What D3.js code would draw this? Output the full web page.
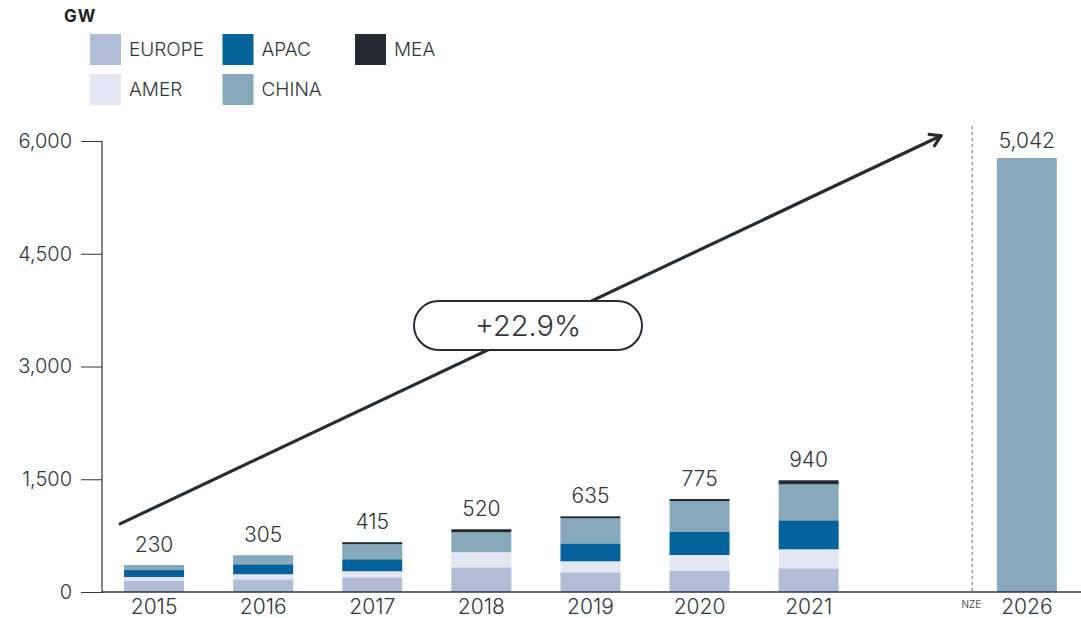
<!DOCTYPE html>
<html>
<head>
<meta charset="utf-8">
<script src="https://cdn.jsdelivr.net/npm/d3@7"></script>
<style>
  body { margin: 0; background: #fff; }
  text { font-family: Inter, "Noto Sans", sans-serif; fill: #30363d; }
</style>
</head>
<body>
<div id="chart"></div>
<script>
// ---------------- data ----------------
const years = ["2015", "2016", "2017", "2018", "2019", "2020", "2021"];
const regions = ["EUROPE", "AMER", "APAC", "CHINA", "MEA"];
const europe = [146, 169, 196, 329, 262, 279, 315];
const amer   = [53, 67, 80, 200, 146, 213, 253];
const apac   = [93, 133, 160, 0, 239, 306, 386];
const china  = [67, 120, 200, 266, 333, 412, 479];
const mea    = [0, 0, 27, 40, 27, 27, 53];
const totalLabels = ["230", "305", "415", "520", "635", "775", "940"];
const nzeYear = "2026";
const nzeValue = 5773;
const nzeLabel = "5,042";
const yTicks = [0, 1500, 3000, 4500, 6000];
const growthLabel = "+22.9%";

const colors = {
  EUROPE: "#b1bdd7",
  AMER: "#e4e8f2",
  APAC: "#03629a",
  CHINA: "#88a8bb",
  MEA: "#232a31"
};

const width = 1081, height = 618;

const svg = d3.select("#chart")
  .append("svg")
  .attr("width", width)
  .attr("height", height);

// ---------------- scales ----------------
const slots = years.concat(["gap", nzeYear]);
const x = d3.scaleBand()
  .domain(slots)
  .range([99.5, 1081.4])
  .paddingInner(0.45)
  .paddingOuter(0.225);

const y = d3.scaleLinear()
  .domain([0, 6000])
  .range([592, 141]);

// ---------------- stacked bars ----------------
const rows = years.map((yr, i) => ({
  year: yr, EUROPE: europe[i], AMER: amer[i], APAC: apac[i], CHINA: china[i], MEA: mea[i]
}));
const series = d3.stack().keys(regions)(rows);

svg.append("g")
  .selectAll("g")
  .data(series)
  .enter()
  .append("g")
  .attr("fill", d => colors[d.key])
  .selectAll("rect")
  .data(d => d)
  .enter()
  .append("rect")
  .attr("x", d => x(d.data.year))
  .attr("width", x.bandwidth())
  .attr("y", d => y(d[1]))
  .attr("height", d => y(d[0]) - y(d[1]));

// NZE bar
svg.append("rect")
  .attr("x", x(nzeYear))
  .attr("width", x.bandwidth())
  .attr("y", y(nzeValue))
  .attr("height", y(0) - y(nzeValue))
  .attr("fill", colors.CHINA);

// total labels
const totals = rows.map(r => regions.reduce((s, k) => s + r[k], 0));
svg.append("g")
  .selectAll("text")
  .data(years)
  .enter()
  .append("text")
  .attr("x", d => x(d) + x.bandwidth() / 2)
  .attr("y", (d, i) => y(totals[i]) - 13)
  .attr("text-anchor", "middle")
  .style("font-size", "21px")
  .style("font-weight", 300)
  .text((d, i) => totalLabels[i]);

svg.append("text")
  .attr("x", x(nzeYear) + x.bandwidth() / 2)
  .attr("y", y(nzeValue) - 10)
  .attr("text-anchor", "middle")
  .style("font-size", "21px")
  .style("font-weight", 300)
  .text(nzeLabel);

// ---------------- axes ----------------
svg.append("line")
  .attr("x1", 102).attr("x2", width)
  .attr("y1", y(0)).attr("y2", y(0))
  .attr("stroke", "#30363d").attr("stroke-width", 1.5);

svg.append("line")
  .attr("x1", 102).attr("x2", 102)
  .attr("y1", y(6000)).attr("y2", y(0))
  .attr("stroke", "#30363d").attr("stroke-width", 1.2);

const yAxis = svg.append("g")
  .attr("transform", "translate(102,0)")
  .call(d3.axisLeft(y).tickValues(yTicks).tickSize(21).tickPadding(9).tickFormat(d3.format(",")));
yAxis.select(".domain").remove();
yAxis.selectAll("line").attr("stroke", "#30363d");
yAxis.selectAll("text")
  .attr("font-family", "Inter, sans-serif")
  .attr("fill", "#30363d")
  .style("font-size", "20px")
  .style("font-weight", 300);

svg.append("g")
  .selectAll("text")
  .data(years.concat([nzeYear]))
  .enter()
  .append("text")
  .attr("x", d => x(d) + x.bandwidth() / 2)
  .attr("y", 614)
  .attr("text-anchor", "middle")
  .style("font-size", "21px")
  .style("font-weight", 300)
  .text(d => d);

// NZE divider
const divX = (x("gap") + x(nzeYear) + x.bandwidth()) / 2;
svg.append("line")
  .attr("x1", divX).attr("x2", divX)
  .attr("y1", 126).attr("y2", y(0))
  .attr("stroke", "#9a9a9a")
  .attr("stroke-width", 1.5)
  .attr("stroke-dasharray", "3,3");

svg.append("text")
  .attr("x", divX - 1)
  .attr("y", 608)
  .attr("text-anchor", "middle")
  .style("font-size", "10px")
  .style("fill", "#555")
  .text("NZE");

// ---------------- growth arrow ----------------
const arrowFrom = [119, y(900)];
const arrowTo = [941, y(6070)];
svg.append("line")
  .attr("x1", arrowFrom[0]).attr("y1", arrowFrom[1])
  .attr("x2", arrowTo[0]).attr("y2", arrowTo[1])
  .attr("stroke", "#272d33").attr("stroke-width", 3.2);

const ang = Math.atan2(arrowTo[1] - arrowFrom[1], arrowTo[0] - arrowFrom[0]);
[ang + Math.PI - 0.55, ang + Math.PI + 0.55].forEach(a => {
  svg.append("line")
    .attr("x1", arrowTo[0]).attr("y1", arrowTo[1])
    .attr("x2", arrowTo[0] + 12 * Math.cos(a)).attr("y2", arrowTo[1] + 12 * Math.sin(a))
    .attr("stroke", "#272d33").attr("stroke-width", 3.2)
    .attr("stroke-linecap", "round");
});

svg.append("rect")
  .attr("x", 414).attr("y", 301)
  .attr("width", 228).attr("height", 49)
  .attr("rx", 24.5)
  .attr("fill", "#fff")
  .attr("stroke", "#272d33")
  .attr("stroke-width", 2);

svg.append("text")
  .attr("x", 528).attr("y", 336)
  .attr("text-anchor", "middle")
  .style("font-size", "29px")
  .style("font-weight", 300)
  .text(growthLabel);

// ---------------- legend ----------------
svg.append("text")
  .attr("x", 64).attr("y", 22)
  .attr("letter-spacing", 1)
  .style("font-size", "17px")
  .style("font-weight", 700)
  .style("fill", "#1d2226")
  .text("GW");

const legendOrder = ["EUROPE", "AMER", "APAC", "CHINA", "MEA"];
const legend = svg.append("g")
  .selectAll("g")
  .data(legendOrder)
  .enter()
  .append("g")
  .attr("transform", (d, i) => "translate(" + (90 + Math.floor(i / 2) * 132.5) + "," + (34 + (i % 2) * 40) + ")");

legend.append("rect")
  .attr("width", 31).attr("height", 31)
  .attr("fill", d => colors[d]);

legend.append("text")
  .attr("x", 39).attr("y", 22)
  .style("font-size", "19px")
  .style("font-weight", 300)
  .text(d => d);
</script>
</body>
</html>
